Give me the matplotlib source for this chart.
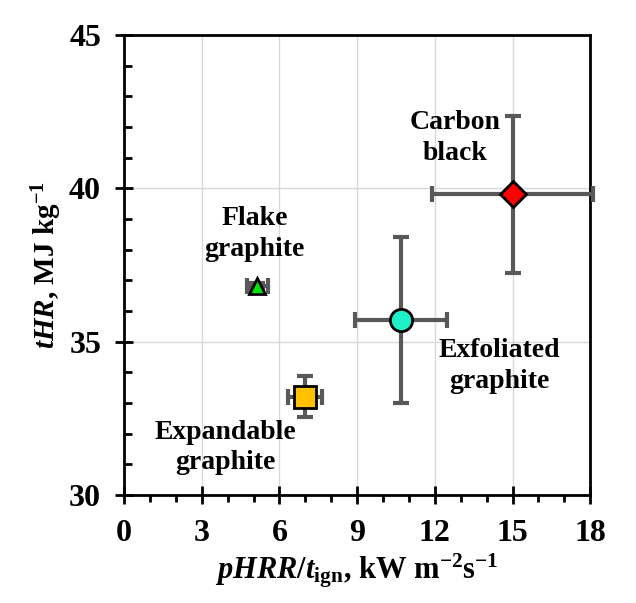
import matplotlib.pyplot as plt
from matplotlib.ticker import MultipleLocator

plt.rcParams['font.family'] = 'Liberation Serif'
plt.rcParams['font.weight'] = 'bold'
plt.rcParams['axes.labelweight'] = 'bold'
plt.rcParams['mathtext.fontset'] = 'custom'
plt.rcParams['mathtext.rm'] = 'Liberation Serif:bold'
plt.rcParams['mathtext.it'] = 'Liberation Serif:italic:bold'
plt.rcParams['mathtext.bf'] = 'Liberation Serif:bold'

# data
names = ["Flake\ngraphite", "Expandable\ngraphite", "Exfoliated\ngraphite", "Carbon\nblack"]
x_val = [5.15, 7.0, 10.7, 15.0]
y_val = [36.8, 33.2, 35.7, 39.8]
x_err = [0.4, 0.65, 1.77, 3.1]
y_err = [0.12, 0.67, 2.7, 2.55]
markers = ["^", "s", "o", "D"]
colors = ["#00E600", "#FFC000", "#1EF0C8", "#FF0000"]
sizes = [12, 16, 16, 13]
label_pos = [(5.05, 38.5), (3.9, 31.55), (14.5, 34.2), (12.8, 41.65)]

fig = plt.figure(figsize=(6.36, 6.03), dpi=100)
ax = fig.add_axes([0.195, 0.179, 0.733, 0.763])

for i in range(len(names)):
    eb = ax.errorbar(x_val[i], y_val[i], xerr=x_err[i], yerr=y_err[i], fmt="none",
                     ecolor="#595959", elinewidth=3, capsize=6, capthick=3, zorder=3)
    for art in eb.lines[1] + eb.lines[2]:
        art.set_clip_on(False)
    ax.plot(x_val[i], y_val[i], marker=markers[i], color=colors[i], markersize=sizes[i],
            markeredgecolor="black", markeredgewidth=2, linestyle="none", zorder=4,
            clip_on=False)
    ax.text(label_pos[i][0], label_pos[i][1], names[i], ha="center", va="center",
            fontsize=20, fontweight="bold", linespacing=1.3)

ax.set_xlim(0, 18)
ax.set_ylim(30, 45)
ax.xaxis.set_major_locator(MultipleLocator(3))
ax.xaxis.set_minor_locator(MultipleLocator(1))
ax.yaxis.set_major_locator(MultipleLocator(5))
ax.yaxis.set_minor_locator(MultipleLocator(1))
ax.grid(True, which="major", color="#d9d9d9", linewidth=1, zorder=0)
ax.set_axisbelow(True)

ax.tick_params(which="major", direction="inout", length=13, width=2, labelsize=23)
ax.tick_params(axis="x", which="major", pad=11)
ax.tick_params(axis="y", which="major", pad=10)
ax.tick_params(axis="x", which="minor", direction="out", length=5, width=2)
ax.tick_params(axis="y", which="minor", direction="in", length=6, width=2)
for s in ax.spines.values():
    s.set_linewidth(2)
for lab in ax.get_xticklabels() + ax.get_yticklabels():
    lab.set_fontweight("bold")

ax.set_xlabel(r"$\mathit{pHRR/t}_{\mathrm{ign}}$, kW m$^{\mathrm{-2}}$s$^{\mathrm{-1}}$",
              fontsize=22, fontweight="bold", labelpad=2)
ax.set_ylabel(r"$\mathit{tHR}$, MJ kg$^{\mathrm{-1}}$", fontsize=21, fontweight="bold", labelpad=4)

fig.savefig("out.png", dpi=100)
